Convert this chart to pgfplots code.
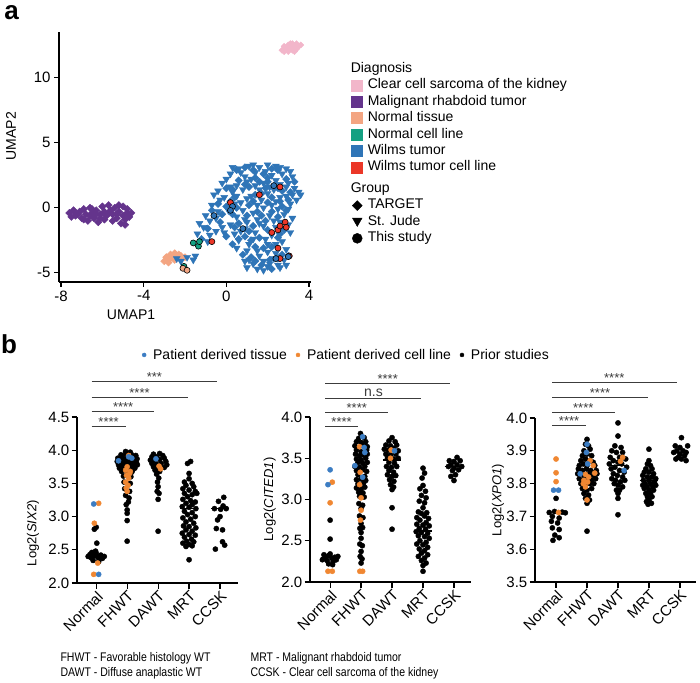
\documentclass[border=0pt]{standalone}
\usepackage{pgfplots}
\pgfplotsset{compat=1.18}
\usepackage{fontspec}
\setmainfont{Liberation Sans}
\newfontfamily\narrowfont[FakeStretch=0.84]{Liberation Sans}
\definecolor{wblue}{RGB}{47,117,183}
\definecolor{mpurple}{RGB}{100,52,140}
\definecolor{cpink}{RGB}{242,182,202}
\definecolor{nsalmon}{RGB}{243,165,130}
\definecolor{nteal}{RGB}{20,160,130}
\definecolor{wred}{RGB}{235,55,40}
\definecolor{pblue}{RGB}{60,125,195}
\definecolor{porange}{RGB}{240,135,50}
\definecolor{siggray}{RGB}{60,60,60}
\newcommand{\tickfont}{\fontsize{15}{15}\selectfont}
\tikzset{stars/.style={font=\fontsize{13}{13}\selectfont, text=siggray, anchor=base, inner sep=0pt}}
\pgfplotsset{
  bstyle/.style={scale only axis, width=161pt, axis lines=left,
    axis line style={-, line width=1.3pt}, tick style={line width=1.2pt, black},
    major tick length=5.5pt, tick align=outside, xtick={0,1,2,3,4},
    xticklabels={Normal,FHWT,DAWT,MRT,CCSK},
    xticklabel style={rotate=45, anchor=north east, font=\tickfont, inner sep=1pt},
    yticklabel style={font=\tickfont, inner sep=2pt}, clip=false,
    ylabel style={font=\fontsize{13}{13}\selectfont, anchor=center}},
  blk/.style={only marks, mark=*, mark size=2.6pt, black, forget plot},
  org/.style={only marks, mark=*, mark size=2.6pt, color=porange, forget plot},
  blu/.style={only marks, mark=*, mark size=2.6pt, color=pblue, forget plot},
  med/.style={black, line width=1.3pt, forget plot, no marks},
  sig/.style={color=siggray, line width=1pt, forget plot, no marks},
}
\begin{document}
\begin{tikzpicture}[x=1pt,y=1pt]
\useasboundingbox (0,0) rectangle (700,682);
\node[font=\bfseries\fontsize{26}{26}\selectfont] at (11.5,669) {a};
\node[font=\bfseries\fontsize{26}{26}\selectfont] at (9,338) {b};

% ---------------- panel a : UMAP
\begin{axis}[at={(59pt,400pt)}, anchor=south west, scale only axis, width=252pt, height=250pt,
  xmin=-8.1, xmax=4.1, ymin=-5.7, ymax=13.5, axis lines=left,
  axis line style={-, line width=1.3pt}, tick style={line width=1.2pt, black},
  major tick length=5pt, tick align=outside,
  xtick={-8,-4,0,4}, xticklabels={-8,-4,0,4}, ytick={-5,0,5,10}, yticklabels={-5,0,5,10},
  ticklabel style={font=\tickfont},
  xlabel={UMAP1}, ylabel={UMAP2},
  xlabel style={font=\fontsize{14}{14}\selectfont, at={(axis description cs:0.286,-0.132)}, anchor=center},
  ylabel style={font=\fontsize{14}{14}\selectfont, at={(axis description cs:-0.19,0.584)}, anchor=center},
  legend style={at={(axis description cs:1.159,0.885)}, anchor=north west, draw=none, fill=none,
    inner sep=0pt, font=\fontsize{14}{14}\selectfont,
    nodes={inner sep=1.5pt, text height=10pt, text depth=3.4pt},
    /tikz/every odd column/.append style={column sep=3pt}},
  legend cell align=left]
% MRT (TARGET)
\addplot[only marks, mark=square*, mark size=2.6pt, mark options={rotate=45}, color=mpurple, forget plot] coordinates {
(-7.6,-0.4) (-7.4,-0.2) (-7.3,-0.6) (-7.1,-0.3) (-7.0,-0.8) (-6.9,-0.1) (-6.8,-0.5) (-6.7,-1.0)
(-6.6,0.0) (-6.5,-0.4) (-6.4,-0.8) (-6.3,-0.2) (-6.2,-1.1) (-6.1,-0.5) (-6.0,0.1) (-5.9,-0.3)
(-5.9,-0.9) (-5.8,-0.6) (-5.7,0.2) (-5.6,-0.2) (-5.5,-1.0) (-5.5,-0.5) (-5.4,0.0) (-5.3,-0.8)
(-5.2,-0.3) (-5.1,-1.2) (-5.0,-0.6) (-5.0,0.1) (-4.9,-0.9) (-4.8,-0.4) (-4.7,-0.7) (-4.6,-0.4)
(-7.2,-0.5) (-6.6,-0.6) (-6.1,-0.8) (-5.7,-0.4) (-5.3,-0.5) (-4.9,-1.3) (-6.9,-0.9) (-6.3,-0.5)
(-7.5,-0.7) (-6.5,-0.1) (-5.2,0.2) (-4.8,-0.1)};
% CCSK
\addplot[only marks, mark=square*, mark size=2.2pt, mark options={rotate=45}, color=cpink, forget plot] coordinates {
(2.7,12.1) (2.8,12.4) (2.9,12.2) (3.0,12.5) (3.0,12.0) (3.1,12.3) (3.2,12.6) (3.2,12.1)
(3.3,12.4) (3.4,12.2) (3.4,12.6) (3.5,12.4) (3.6,12.5) (2.8,12.0) (3.1,12.6) (3.3,12.0)};
% normal tissue (TARGET)
\addplot[only marks, mark=square*, mark size=2.6pt, mark options={rotate=45}, color=nsalmon, forget plot] coordinates {
(-3.0,-4.1) (-2.9,-3.8) (-2.8,-4.0) (-2.7,-3.6) (-2.6,-3.8) (-2.5,-3.5) (-2.4,-3.7) (-2.3,-3.6)
(-2.2,-3.7) (-2.0,-3.8) (-2.8,-4.2) (-2.5,-4.0)};
% Wilms St. Jude (triangles)
\addplot[only marks, mark=triangle*, mark size=4pt, mark options={rotate=180}, color=wblue, forget plot] coordinates {
(0.6,3.0) (1.1,3.2) (1.6,3.1) (2.0,3.3) (2.4,3.2) (2.9,3.0)
(0.2,2.6) (0.9,2.4) (1.4,2.7) (2.2,2.5) (2.7,2.6) (3.2,2.4)
(-0.2,1.9) (0.5,1.7) (1.8,1.9) (2.6,1.8) (3.3,1.5) (3.5,1.2)
(-0.6,1.0) (0.3,1.2) (1.2,0.9) (2.0,1.1) (2.9,0.9) (3.6,1.0)
(-0.7,0.2) (-0.3,0.6) (0.7,0.4) (1.5,0.2) (2.4,0.5) (3.1,0.3)
(-1.0,-0.6) (-0.4,-0.3) (0.5,-0.7) (1.3,-0.4) (2.1,-0.6) (2.8,-0.5)
(-1.3,-1.2) (-0.8,-1.0) (0.2,-1.3) (1.0,-1.1) (1.8,-1.4) (2.6,-1.1) (3.0,-1.3)
(-1.4,-2.0) (-0.5,-1.8) (0.4,-2.0) (1.4,-1.9) (2.2,-2.1) (3.1,-1.9)
(-0.9,-2.6) (0.6,-2.5) (1.1,-2.8) (2.7,-2.6)
(1.0,-3.3) (2.0,-3.4) (2.9,-3.2)
(0.9,-4.1) (1.3,-4.3) (1.8,-4.1) (2.3,-3.9) (2.8,-4.0)
(1.0,-4.6) (1.5,-4.7) (2.0,-4.5) (2.6,-4.6)
(-2.4,-3.9) (-2.2,-4.1) (-1.9,-3.8) (-1.6,-4.0) (-1.5,-3.7)
(0.0,2.2) (1.0,2.0) (2.4,2.1) (3.0,1.9) (0.8,1.4) (1.6,1.4) (2.3,1.4) (-0.1,0.8)
(1.0,0.7) (2.6,0.8) (0.1,-0.2) (1.8,0.0) (2.5,-0.1) (0.8,-0.2) (-0.2,-1.5) (1.5,-0.9)
(2.3,-1.0) (0.9,-1.6) (1.9,-2.4) (2.4,-2.8) (1.6,-3.7) (2.5,-4.4) (3.2,-0.8) (3.4,0.6)
(0.3,3.1) (1.3,3.3) (1.9,2.8) (2.6,3.1) (3.1,2.8) (0.7,2.7) (1.2,2.2) (2.9,1.6) (0.2,1.6)
(1.4,1.7) (2.1,1.6) (3.2,1.0) (-0.4,1.3) (0.5,0.9) (1.7,0.6) (2.2,0.2) (3.0,-0.1) (0.4,0.3)
(-0.5,-0.8) (0.9,-0.9) (1.6,-1.2) (2.4,-1.5) (-0.1,-1.9) (0.7,-1.8) (1.3,-2.4) (2.0,-2.8)
(0.5,-3.1) (1.5,-3.3) (2.4,-3.5) (1.1,-4.0) (2.1,-4.3) (2.9,-4.4) (1.8,-4.8) (-0.8,-2.1) (-1.1,-1.5)};
% Wilms TARGET (diamonds)
\addplot[only marks, mark=square*, mark size=2.6pt, mark options={rotate=45}, color=wblue, forget plot] coordinates {
(0.5,2.9) (1.3,2.9) (1.8,2.6) (2.5,2.9) (0.6,2.1) (1.4,2.3) (2.0,2.0) (2.9,2.2) (3.3,2.0)
(0.0,1.5) (1.1,1.6) (1.9,1.5) (2.7,1.3) (3.1,1.2) (-0.4,0.3) (0.4,0.8) (1.4,1.0) (2.2,0.8)
(3.0,0.6) (0.0,0.1) (1.1,0.2) (2.0,0.4) (2.7,0.1) (-0.7,-0.2) (0.3,-0.5) (1.0,-0.6) (1.7,-0.6)
(2.5,-0.7) (-0.3,-1.1) (0.6,-1.2) (1.3,-1.4) (2.0,-1.7) (2.8,-1.7) (0.0,-2.2) (0.9,-2.2)
(1.6,-2.3) (2.5,-2.3) (0.3,-2.8) (1.4,-3.0) (2.2,-3.0) (2.7,-3.6) (1.2,-3.8) (2.1,-4.0)
(1.7,-4.4) (0.8,-3.6) (3.0,-3.7) (1.9,-1.0) (0.5,0.0) (2.3,1.7) (1.6,2.0) (0.3,1.4)
(2.9,-0.2) (-0.9,-1.6) (1.2,-2.5) (-1.2,-2.4)
(0.9,3.1) (2.2,3.0) (2.0,2.3) (0.9,1.8) (2.5,1.5) (1.7,1.1) (0.2,0.5) (1.3,0.5) (2.6,0.5)
(-0.2,-0.5) (1.5,-0.3) (2.2,-0.3) (0.4,-1.5) (1.1,-1.8) (2.6,-2.0) (0.6,-2.4) (1.8,-3.1)
(2.5,-3.9) (1.4,-4.1) (2.2,-4.7)};
% This study
\addplot[only marks, mark=*, mark size=3pt, draw=black, fill=nteal, mark options={line width=0.6pt}, forget plot] coordinates {
(-1.6,-2.7) (-1.35,-2.95) (-1.3,-2.6) (-2.05,-4.5)};
\addplot[only marks, mark=*, mark size=3pt, draw=black, fill=nsalmon, mark options={line width=0.6pt}, forget plot] coordinates {
(-2.1,-4.65) (-1.9,-4.8)};
\addplot[only marks, mark=*, mark size=3pt, draw=black, fill=wred, mark options={line width=0.6pt}, forget plot] coordinates {
(0.2,0.4) (1.6,1.0) (2.6,1.6) (-0.7,-2.6) (2.2,-1.9) (2.5,-1.7) (2.6,-1.4) (2.85,-1.1)
(2.9,-1.5) (2.5,-3.1) (2.6,-3.9) (3.05,-3.7)};
\addplot[only marks, mark=*, mark size=3pt, draw=black, fill=wblue, mark options={line width=0.6pt}, forget plot] coordinates {
(2.3,1.7) (0.3,0.1) (0.2,-0.2) (-0.6,-0.6) (0.8,-1.6) (2.4,-3.9) (3.0,-3.75)};
% legend (Diagnosis)
\addlegendimage{empty legend}
\addlegendentry{\hspace*{-17pt}Diagnosis}
\addlegendimage{legend image code/.code={\fill[cpink, draw=none] (0pt,-6pt) rectangle (12pt,6pt);}}
\addlegendentry{Clear cell sarcoma of the kidney}
\addlegendimage{legend image code/.code={\fill[mpurple, draw=none] (0pt,-6pt) rectangle (12pt,6pt);}}
\addlegendentry{Malignant rhabdoid tumor}
\addlegendimage{legend image code/.code={\fill[nsalmon, draw=none] (0pt,-6pt) rectangle (12pt,6pt);}}
\addlegendentry{Normal tissue}
\addlegendimage{legend image code/.code={\fill[nteal, draw=none] (0pt,-6pt) rectangle (12pt,6pt);}}
\addlegendentry{Normal cell line}
\addlegendimage{legend image code/.code={\fill[wblue, draw=none] (0pt,-6pt) rectangle (12pt,6pt);}}
\addlegendentry{Wilms tumor}
\addlegendimage{legend image code/.code={\fill[wred, draw=none] (0pt,-6pt) rectangle (12pt,6pt);}}
\addlegendentry{Wilms tumor cell line}
\end{axis}

% Group legend
\begin{axis}[at={(59pt,400pt)}, anchor=south west, scale only axis, width=252pt, height=250pt,
  hide axis, xmin=0, xmax=1, ymin=0, ymax=1,
  legend style={at={(axis description cs:1.159,0.405)}, anchor=north west, draw=none, fill=none,
    inner sep=0pt, font=\fontsize{14}{14}\selectfont,
    nodes={inner sep=1.5pt, text height=10pt, text depth=3.4pt},
    /tikz/every odd column/.append style={column sep=3pt}},
  legend cell align=left]
\addplot[draw=none, forget plot] coordinates {(0.5,0.5)};
\addlegendimage{empty legend}
\addlegendentry{\hspace*{-17pt}Group}
\addlegendimage{legend image code/.code={\path[draw=none, fill=none] (0pt,-6pt) rectangle (12pt,6pt); \path[black, draw=none, fill=none, only marks, mark=square*, mark size=3.5pt, mark options={rotate=45, fill=black, draw=black}] plot coordinates {(6pt,0pt)};}}
\addlegendentry{TARGET}
\addlegendimage{legend image code/.code={\path[draw=none, fill=none] (0pt,-6pt) rectangle (12pt,6pt); \path[black, draw=none, fill=none, only marks, mark=triangle*, mark size=5.5pt, mark options={rotate=180, fill=black, draw=black}] plot coordinates {(6pt,1pt)};}}
\addlegendentry{St. Jude}
\addlegendimage{legend image code/.code={\path[draw=none, fill=none] (0pt,-6pt) rectangle (12pt,6pt); \path[black, draw=none, fill=none, only marks, mark=*, mark size=5pt, mark options={fill=black, draw=black}] plot coordinates {(6pt,0pt)};}}
\addlegendentry{This study}
\end{axis}

% ---------------- panel b1 : SIX2
\begin{axis}[bstyle, at={(77pt,99pt)}, anchor=south west, height=166pt,
  xmin=-0.62, xmax=4.58, ymin=2.0, ymax=4.5,
  ytick={2,2.5,3,3.5,4,4.5}, yticklabels={2.0,2.5,3.0,3.5,4.0,4.5},
  ylabel={Log2(\textit{SIX2})}, ylabel style={at={(axis description cs:-0.273,0.30)}}]
\addplot[blk] coordinates {
(0.0,2.84) (-0.06,2.81) (0.02,2.60) (-0.02,2.48) (-0.26,2.40) (-0.16,2.38) (-0.05,2.41) (0.05,2.39)
(0.15,2.42) (0.26,2.40) (-0.2,2.43) (0.1,2.36) (-0.1,2.34) (0.2,2.37) (0.0,2.45) (0.08,2.32) (-0.14,2.46)
(0.95,3.98) (1.1,3.97) (0.8,3.93) (0.95,3.94) (1.15,3.93) (1.28,3.92) (0.7,3.88) (0.85,3.89) (1.0,3.87)
(1.2,3.88) (1.32,3.87) (0.68,3.83) (0.85,3.82) (1.0,3.83) (1.15,3.84) (1.3,3.82) (0.72,3.78) (0.88,3.77)
(1.05,3.78) (1.2,3.77) (1.33,3.78) (0.75,3.73) (0.9,3.72) (1.1,3.74) (1.25,3.73) (0.82,3.68) (1.15,3.67)
(1.0,3.66) (0.88,3.61) (1.12,3.6) (0.9,3.52) (1.1,3.5) (0.92,3.42) (1.08,3.38) (0.95,3.32) (1.06,3.28)
(0.97,3.18) (1.04,3.22) (1.0,3.10) (1.0,3.05) (1.0,2.94) (1.0,2.63) (0.78,3.86) (1.08,3.9) (0.92,3.8)
(1.22,3.8) (0.96,3.75) (1.18,3.7) (0.8,3.75) (1.02,3.95) (0.9,3.85) (1.1,3.82)
(1.85,3.94) (2.05,3.95) (2.15,3.92) (1.8,3.90) (1.95,3.90) (2.2,3.88) (1.75,3.85) (1.9,3.85) (2.05,3.86)
(2.25,3.83) (1.8,3.80) (1.95,3.79) (2.1,3.80) (2.28,3.78) (1.85,3.75) (2.0,3.74) (2.2,3.74) (1.9,3.70)
(2.05,3.68) (1.95,3.64) (2.02,3.58) (1.98,3.52) (2.0,3.45) (1.97,3.38) (2.03,3.35) (2.0,3.26) (2.0,2.78)
(3.05,3.83) (2.95,3.80) (3.0,3.65) (3.0,3.57) (2.85,3.52) (3.1,3.50) (2.9,3.47) (3.15,3.45) (2.8,3.42)
(3.0,3.40) (3.2,3.38) (2.85,3.35) (3.1,3.33) (2.95,3.30) (3.25,3.35) (2.8,3.26) (3.05,3.24) (3.2,3.22)
(2.9,3.20) (3.1,3.18) (2.78,3.15) (3.0,3.14) (3.22,3.12) (2.85,3.08) (3.1,3.06) (2.95,3.03) (3.2,3.00)
(2.8,2.98) (3.05,2.96) (2.9,2.92) (3.15,2.90) (2.82,2.86) (3.0,2.85) (3.22,2.83) (2.9,2.80) (3.1,2.78)
(2.78,2.75) (3.0,2.73) (3.2,2.72) (2.85,2.69) (3.08,2.66) (2.92,2.63) (3.15,2.62) (2.8,2.60) (3.0,2.58)
(2.9,2.55) (3.1,2.56) (3.0,2.35)
(4.12,3.29) (3.95,3.23) (4.1,3.16) (3.82,3.12) (4.02,3.11) (4.2,3.12) (4.0,3.00) (3.88,2.82) (4.08,2.80)
(4.08,2.62) (3.85,2.51) (4.15,2.57) (3.92,2.95)};
\addplot[org] coordinates {(-0.06,2.90) (0.08,3.20) (0.05,2.30) (-0.08,2.13)
(1.05,3.92) (1.0,3.75) (0.95,3.70) (1.1,3.68) (0.98,3.62) (1.05,3.58) (0.95,3.52) (1.03,3.47)
(0.97,3.43) (1.0,3.38) (1.08,3.65) (2.03,3.76) (2.08,3.72)};
\addplot[blu] coordinates {(-0.08,3.19) (0.08,2.13) (0.72,3.84) (1.05,3.90) (1.15,3.88) (1.93,3.87)};
\addplot[med] coordinates {(-0.3,2.42) (0.3,2.42)};
\addplot[med] coordinates {(2.7,3.12) (3.3,3.12)};
\addplot[med] coordinates {(3.7,3.12) (4.3,3.12)};
\addplot[sig] coordinates {(-0.15,4.36) (0.95,4.36)};
\addplot[sig] coordinates {(-0.15,4.59) (1.88,4.59)};
\addplot[sig] coordinates {(-0.15,4.80) (2.95,4.80)};
\addplot[sig] coordinates {(-0.15,5.03) (3.9,5.03)};
\node[stars] at (axis cs:0.4,4.36) {****};
\node[stars] at (axis cs:0.87,4.59) {****};
\node[stars] at (axis cs:1.4,4.80) {****};
\node[stars] at (axis cs:1.88,5.03) {***};
\end{axis}

% ---------------- panel b2 : CITED1
\begin{axis}[bstyle, at={(310pt,100pt)}, anchor=south west, height=165pt,
  xmin=-0.65, xmax=4.55, ymin=2.0, ymax=4.0,
  ytick={2,2.5,3,3.5,4}, yticklabels={2.0,2.5,3.0,3.5,4.0},
  ylabel={Log2(\textit{CITED1})}, ylabel style={at={(axis description cs:-0.25,0.5)}},
  legend style={at={(axis description cs:-1.05,1.376)}, anchor=west, draw=none, fill=none,
    inner sep=0pt, font=\fontsize{14}{14}\selectfont, nodes={inner sep=1pt},
    /tikz/every odd column/.append style={column sep=5pt},
    /tikz/every even column/.append style={column sep=7pt}},
  legend columns=3]
\addplot[blk] coordinates {
(0.0,2.75) (0.0,2.52) (-0.25,2.27) (-0.15,2.30) (-0.05,2.32) (0.05,2.29) (0.15,2.30) (0.25,2.31)
(-0.1,2.26) (0.1,2.25) (0.0,2.34) (-0.2,2.33) (0.2,2.27) (-0.05,2.22) (0.08,2.21)
(0.98,3.80) (0.92,3.74) (1.1,3.75) (0.85,3.70) (1.0,3.69) (1.15,3.70) (0.8,3.65) (1.1,3.66) (1.2,3.64)
(0.85,3.60) (1.0,3.58) (1.18,3.60) (0.82,3.55) (0.95,3.53) (1.08,3.54) (1.2,3.55) (0.85,3.49) (1.0,3.48)
(1.15,3.50) (0.9,3.45) (1.05,3.44) (1.2,3.45) (0.8,3.40) (0.95,3.39) (1.12,3.40) (0.85,3.35) (1.05,3.36)
(1.18,3.34) (0.9,3.30) (1.12,3.28) (0.85,3.24) (1.0,3.25) (1.15,3.23) (0.9,3.19) (1.08,3.20) (0.85,3.14)
(1.0,3.13) (1.12,3.15) (0.92,3.09) (1.06,3.08) (0.95,3.04) (1.1,3.03) (0.93,2.95) (1.05,2.93) (1.0,2.89)
(0.95,2.80) (1.06,2.78) (1.0,2.71) (0.96,2.65) (1.05,2.66) (1.0,2.60) (1.0,2.53) (0.96,2.46) (1.04,2.44)
(1.0,2.37) (0.97,2.31) (1.03,2.28) (1.0,2.23)
(2.0,3.75) (1.9,3.71) (2.1,3.70) (1.8,3.66) (1.95,3.65) (2.15,3.66) (1.75,3.61) (1.88,3.60) (2.05,3.62)
(2.2,3.59) (1.8,3.55) (1.95,3.54) (2.12,3.55) (1.85,3.50) (2.05,3.49) (2.2,3.50) (1.9,3.45) (2.08,3.44)
(1.82,3.40) (1.98,3.39) (2.15,3.40) (1.9,3.35) (2.05,3.33) (1.85,3.30) (2.0,3.28) (2.12,3.29) (1.92,3.24)
(2.06,3.22) (1.95,3.18) (2.05,3.15) (2.0,3.12) (2.0,2.90) (2.0,2.64)
(3.0,3.38) (3.05,3.32) (2.97,3.26) (3.0,3.17) (2.9,3.13) (3.08,3.10) (2.95,3.05) (3.1,3.02) (2.88,2.98)
(3.05,2.96) (3.0,2.90) (2.85,2.85) (3.12,2.84) (2.95,2.83) (3.05,2.80) (2.8,2.78) (3.18,2.77) (2.9,2.75)
(3.1,2.72) (2.8,2.70) (3.0,2.69) (3.2,2.68) (2.88,2.65) (3.08,2.64) (2.78,2.61) (2.95,2.60) (3.15,2.59)
(2.85,2.56) (3.05,2.55) (3.2,2.53) (2.9,2.50) (3.1,2.48) (2.8,2.46) (3.0,2.45) (3.15,2.42) (2.88,2.40)
(3.05,2.38) (2.95,2.35) (3.15,2.33) (2.85,2.31) (3.05,2.29) (2.95,2.26) (3.1,2.23) (3.0,2.20) (3.0,2.13)
(4.1,3.51) (3.85,3.47) (4.0,3.46) (4.2,3.47) (3.9,3.42) (4.1,3.42) (4.25,3.40) (3.82,3.40) (4.0,3.38)
(3.95,3.35) (4.15,3.36) (4.05,3.30) (3.9,3.28) (4.0,3.23)};
\addplot[org] coordinates {(0.07,3.21) (0.0,2.96) (-0.07,2.13) (0.07,2.13)
(0.95,3.64) (0.97,3.33) (0.95,3.18) (1.0,3.02) (1.0,2.87) (0.98,2.75) (0.96,2.13) (1.05,2.13)
(1.97,3.60) (1.95,3.50)};
\addplot[blu] coordinates {(0.0,3.36) (-0.07,3.18) (1.05,3.76) (1.1,3.63) (1.12,3.57) (0.8,3.41) (1.05,3.27) (2.08,3.59)};
\addplot[med] coordinates {(-0.3,2.30) (0.3,2.30)};
\addplot[med] coordinates {(1.7,3.48) (2.3,3.48)};
\addplot[med] coordinates {(2.7,2.62) (3.3,2.62)};
\addplot[med] coordinates {(3.7,3.40) (4.3,3.40)};
\addplot[sig] coordinates {(-0.15,3.89) (0.9,3.89)};
\addplot[sig] coordinates {(-0.15,4.06) (1.87,4.06)};
\addplot[sig] coordinates {(-0.15,4.23) (2.94,4.23)};
\addplot[sig] coordinates {(-0.15,4.41) (3.87,4.41)};
\node[stars] at (axis cs:0.37,3.89) {****};
\node[stars] at (axis cs:0.86,4.06) {****};
\node[stars, font=\fontsize{14}{14}\selectfont, yshift=2pt] at (axis cs:1.4,4.23) {n.s};
\node[stars] at (axis cs:1.86,4.41) {****};
\addlegendimage{legend image code/.code={\path[draw=none, fill=none] (0pt,-3pt) rectangle (6pt,3pt); \path[draw=none, fill=none, only marks, mark=*, mark size=2pt, mark options={fill=pblue, draw=pblue}] plot coordinates {(3pt,0pt)};}}
\addlegendentry{Patient derived tissue}
\addlegendimage{legend image code/.code={\path[draw=none, fill=none] (0pt,-3pt) rectangle (6pt,3pt); \path[draw=none, fill=none, only marks, mark=*, mark size=2pt, mark options={fill=porange, draw=porange}] plot coordinates {(3pt,0pt)};}}
\addlegendentry{Patient derived cell line}
\addlegendimage{legend image code/.code={\path[draw=none, fill=none] (0pt,-3pt) rectangle (6pt,3pt); \path[draw=none, fill=none, only marks, mark=*, mark size=2pt, mark options={fill=black, draw=black}] plot coordinates {(3pt,0pt)};}}
\addlegendentry{Prior studies}
\end{axis}

% ---------------- panel b3 : XPO1
\begin{axis}[bstyle, at={(535pt,100pt)}, anchor=south west, height=164pt,
  xmin=-0.68, xmax=4.52, ymin=3.5, ymax=4.0,
  ytick={3.5,3.6,3.7,3.8,3.9,4.0}, yticklabels={3.5,3.6,3.7,3.8,3.9,4.0},
  ylabel={Log2(\textit{XPO1})}, ylabel style={at={(axis description cs:-0.23,0.5)}}]
\addplot[blk] coordinates {
(0.0,3.755) (-0.22,3.712) (-0.05,3.715) (0.2,3.713) (0.3,3.711) (-0.12,3.70) (0.1,3.695) (-0.15,3.685)
(0.05,3.68) (-0.12,3.665) (0.1,3.66) (-0.04,3.643) (0.1,3.635) (-0.1,3.627)
(1.0,3.935) (0.95,3.92) (1.05,3.915) (0.9,3.90) (1.1,3.905) (0.85,3.885) (1.0,3.89) (1.15,3.885)
(0.8,3.87) (0.95,3.875) (1.1,3.87) (1.2,3.865) (0.75,3.855) (0.88,3.86) (1.0,3.855) (1.25,3.855)
(0.72,3.845) (0.85,3.84) (0.98,3.845) (1.12,3.84) (1.3,3.84) (0.7,3.83) (0.9,3.825) (1.05,3.83)
(1.2,3.825) (1.32,3.83) (0.75,3.815) (0.88,3.81) (1.0,3.815) (1.15,3.81) (1.28,3.815) (0.8,3.80)
(0.95,3.795) (1.1,3.80) (1.22,3.80) (0.85,3.785) (1.0,3.78) (1.15,3.785) (0.9,3.77) (1.05,3.765)
(0.95,3.755) (1.08,3.75) (1.0,3.74) (1.0,3.655)
(2.0,3.985) (2.0,3.945) (1.9,3.915) (2.1,3.91) (1.8,3.90) (1.95,3.895) (2.15,3.895) (1.75,3.88)
(2.05,3.88) (2.25,3.875) (1.85,3.87) (2.0,3.865) (1.72,3.86) (2.12,3.86) (1.9,3.85) (2.28,3.85)
(1.78,3.845) (2.05,3.84) (2.2,3.835) (1.85,3.83) (1.98,3.825) (2.15,3.82) (1.8,3.815) (1.92,3.81)
(2.08,3.805) (2.22,3.81) (1.88,3.80) (2.0,3.795) (2.15,3.79) (1.95,3.78) (2.05,3.78) (2.0,3.77)
(2.0,3.755) (2.0,3.705)
(3.0,3.905) (3.0,3.87) (2.95,3.86) (3.05,3.855) (2.9,3.845) (3.1,3.845) (2.85,3.835) (3.0,3.835)
(3.15,3.83) (2.8,3.825) (2.95,3.82) (3.1,3.82) (3.22,3.815) (2.82,3.81) (3.0,3.81) (3.18,3.805)
(2.88,3.80) (3.05,3.80) (2.8,3.795) (2.95,3.79) (3.12,3.79) (3.22,3.795) (2.85,3.785) (3.0,3.78)
(3.15,3.78) (2.9,3.77) (3.05,3.77) (2.95,3.76) (3.1,3.76) (3.0,3.75) (2.92,3.745) (3.08,3.74) (2.97,3.737)
(4.05,3.94) (3.85,3.915) (4.0,3.91) (4.25,3.915) (3.9,3.90) (4.1,3.90) (3.8,3.895) (4.2,3.895)
(4.0,3.89) (3.95,3.88) (4.15,3.885) (3.87,3.875) (4.05,3.875) (4.2,3.87)};
\addplot[org] coordinates {(0.0,3.875) (0.0,3.833) (0.0,3.806) (0.08,3.712)
(1.1,3.87) (1.2,3.855) (1.25,3.832) (0.95,3.828) (1.05,3.82) (0.9,3.81) (0.95,3.79) (0.88,3.80)
(1.0,3.75) (1.02,3.805) (2.15,3.88) (2.08,3.868)};
\addplot[blu] coordinates {(-0.08,3.78) (0.08,3.78) (1.0,3.92) (0.98,3.895) (1.02,3.86) (0.78,3.83) (2.2,3.84)};
\addplot[med] coordinates {(0.7,3.84) (1.3,3.84)};
\addplot[med] coordinates {(1.7,3.855) (2.3,3.855)};
\addplot[med] coordinates {(2.7,3.81) (3.3,3.81)};
\addplot[med] coordinates {(3.7,3.895) (4.3,3.895)};
\addplot[sig] coordinates {(-0.13,3.976) (0.97,3.976)};
\addplot[sig] coordinates {(-0.13,4.018) (1.9,4.018)};
\addplot[sig] coordinates {(-0.13,4.061) (2.97,4.061)};
\addplot[sig] coordinates {(-0.13,4.107) (3.9,4.107)};
\node[stars] at (axis cs:0.42,3.976) {****};
\node[stars] at (axis cs:0.88,4.018) {****};
\node[stars] at (axis cs:1.42,4.061) {****};
\node[stars] at (axis cs:1.88,4.107) {****};
\end{axis}

% footnote text
\node[anchor=base west, font=\narrowfont\fontsize{12.5}{12.5}\selectfont] at (57,21) {FHWT - Favorable histology WT};
\node[anchor=base west, font=\narrowfont\fontsize{12.5}{12.5}\selectfont] at (57,6) {DAWT - Diffuse anaplastic WT};
\node[anchor=base west, font=\narrowfont\fontsize{12.5}{12.5}\selectfont] at (247,21) {MRT - Malignant rhabdoid tumor};
\node[anchor=base west, font=\narrowfont\fontsize{12.5}{12.5}\selectfont] at (247,6) {CCSK - Clear cell sarcoma of the kidney};
\end{tikzpicture}
\end{document}
